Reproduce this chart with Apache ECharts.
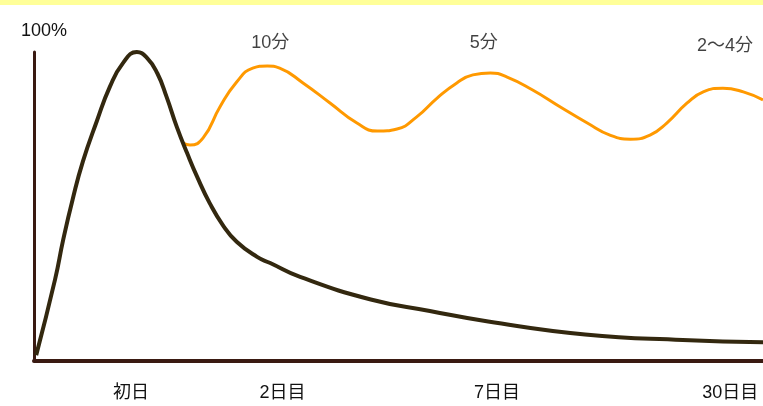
<!DOCTYPE html>
<html><head><meta charset="utf-8">
<script src="https://cdn.jsdelivr.net/npm/echarts@6/dist/echarts.min.js"></script>
<style>html,body{margin:0;padding:0;background:#fff;}#c{width:763px;height:406px;}</style>
</head><body><div id="c"></div>
<script>
// forgetting curve (time units 0-100, retention %)
var forgetX = [0.3, 2.9, 4.0, 5.3, 6.7, 8.6, 10.4, 12.2, 14.1, 15.5, 16.9, 18.2, 19.6, 21.0, 22.4, 24.1, 25.9, 27.8, 30.6, 32.4, 36.5, 46.2, 54.3, 62.3, 75.6, 89.0, 100];
var forgetY = [1.9, 26.5, 39.2, 52.3, 64.5, 77.5, 88.7, 96.4, 100, 98.1, 93.2, 85.4, 75.7, 67.3, 59.5, 51.1, 44.0, 38.6, 33.7, 31.7, 27.2, 19.9, 16.2, 12.8, 8.6, 6.8, 6.1];
// review curve
var reviewX = [20.4, 21.4, 23.2, 25.5, 27.8, 30.0, 32.0, 33.7, 36.9, 40.6, 44.3, 47.1, 49.8, 52.5, 55.3, 58.0, 60.2, 62.6, 64.9, 68.4, 72.2, 75.9, 79.0, 81.8, 84.5, 86.8, 89.6, 91.8, 94.5, 97.3, 100];
var reviewY = [70.6, 69.9, 72.2, 82.2, 90.3, 94.8, 95.5, 94.8, 90.0, 83.5, 77.0, 74.4, 75.1, 79.0, 85.1, 90.0, 92.6, 93.2, 91.9, 87.7, 82.2, 77.0, 73.1, 71.8, 73.1, 77.0, 83.5, 87.1, 88.3, 87.1, 84.5];
// review time annotations
var annLabels = ['10分', '5分', '2～4分'];
var annX = [32.4, 61.7, 94.8];
var annY = [103.0, 103.0, 101.8];
// x tick labels
var tickLabels = ['初日', '2日目', '7日目', '30日目'];
var tickX = [13.3, 34.1, 63.5, 95.5];

function zip(a, b) { return a.map(function (v, i) { return [v, b[i]]; }); }
var font = '"Liberation Sans", "Noto Sans CJK JP", sans-serif';
var txt = '#111';
var chart = echarts.init(document.getElementById('c'));
chart.setOption({
  animation: false,
  backgroundColor: '#fff',
  graphic: [{ type: 'rect', left: 0, top: 0, shape: { width: 763, height: 5 }, style: { fill: '#FFFF99' } }],
  grid: { left: 34, right: 0, top: 52, bottom: 45 },
  xAxis: {
    type: 'value', min: 0, max: 100,
    splitLine: { show: false },
    axisLine: { show: true, lineStyle: { color: '#3a1a12', width: 4 } },
    axisTick: { show: false },
    axisLabel: {
      show: true, customValues: tickX, margin: 23,
      formatter: function (v) { var i = tickX.indexOf(v); return i >= 0 ? tickLabels[i] : ''; },
      color: txt, fontSize: 18, fontFamily: font
    }
  },
  yAxis: {
    type: 'value', min: 0, max: 100,
    name: '100%', nameLocation: 'end', nameGap: 12,
    nameTextStyle: { color: txt, fontSize: 18, fontFamily: font, align: 'left', padding: [0, 0, 0, -13] },
    splitLine: { show: false },
    axisLine: { show: true, lineStyle: { color: '#3a1a12', width: 3 } },
    axisTick: { show: false },
    axisLabel: { show: false }
  },
  series: [
    {
      type: 'line', data: zip(reviewX, reviewY), smooth: 0.5, symbol: 'none', z: 2,
      lineStyle: { color: '#FF9900', width: 3 }
    },
    {
      type: 'line', data: zip(forgetX, forgetY), smooth: 0.5, symbol: 'none', z: 3,
      lineStyle: { color: '#33280f', width: 4 }
    },
    {
      type: 'scatter', data: zip(annX, annY), symbolSize: 0, clip: false,
      label: {
        show: true, position: 'inside', color: txt, fontSize: 18, fontFamily: font,
        formatter: function (p) { return annLabels[p.dataIndex]; }
      }
    }
  ]
});
</script></body></html>
